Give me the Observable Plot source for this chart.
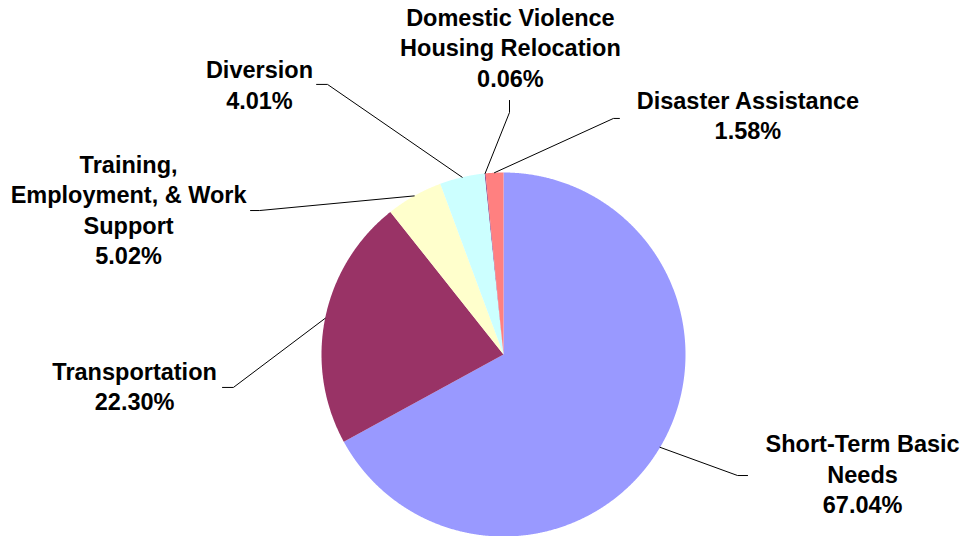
<!DOCTYPE html>
<html>
<head>
<meta charset="utf-8">
<script src="https://cdn.jsdelivr.net/npm/d3@7"></script>
<script src="https://cdn.jsdelivr.net/npm/@observablehq/plot@0.6"></script>
<style>
  html, body { margin: 0; padding: 0; background: #fff; }
  #chart svg { display: block; }
</style>
</head>
<body>
<div id="chart"></div>
<script>
// ---- data ----
const categories = [
  "Short-Term Basic Needs",
  "Transportation",
  "Training, Employment, & Work Support",
  "Diversion",
  "Domestic Violence Housing Relocation",
  "Disaster Assistance"
];
const labelText = [
  "Short-Term Basic\nNeeds",
  "Transportation",
  "Training,\nEmployment, & Work\nSupport",
  "Diversion",
  "Domestic Violence\nHousing Relocation",
  "Disaster Assistance"
];
const shares = [67.04, 22.30, 5.02, 4.01, 0.06, 1.58];
const colors = ["#9999FF", "#993366", "#FFFFCC", "#CCFFFF", "#660066", "#FF8080"];

// ---- label layout (in pie-radius units, centre = 0,0) ----
const elbowX = [1.286, -1.484, -1.341, -0.967, 0.033, 0.604];
const elbowY = [-0.665, -0.181, 0.791, 1.484, 1.330, 1.297];
const endX   = [1.341, -1.544, -1.390, -1.027, 0.033, 0.637];
const endY   = [-0.665, -0.181, 0.791, 1.484, 1.396, 1.297];
const textX  = [1.973, -2.027, -2.060, -1.341, 0.038, 1.343];
const textY  = [-0.651, -0.170, 0.800, 1.489, 1.693, 1.319];

// ---- geometry from values ----
const total = d3.sum(shares);
const slices = [];
const leaders = [];
const labels = [];
let acc = 0;
shares.forEach((v, i) => {
  const a0 = acc / total * 2 * Math.PI;
  acc += v;
  const a1 = acc / total * 2 * Math.PI;
  const name = categories[i];
  const n = Math.max(2, Math.ceil((a1 - a0) / (Math.PI / 720)));
  slices.push({name, k: 0, x: 0, y: 0});
  for (let j = 0; j <= n; j++) {
    const a = a0 + (a1 - a0) * j / n;
    slices.push({name, k: j + 1, x: Math.sin(a), y: Math.cos(a)});
  }
  slices.push({name, k: n + 2, x: 0, y: 0});
  const am = (a0 + a1) / 2;
  leaders.push({name, x: Math.sin(am), y: Math.cos(am)});
  leaders.push({name, x: elbowX[i], y: elbowY[i]});
  leaders.push({name, x: endX[i], y: endY[i]});
  labels.push({name, x: textX[i], y: textY[i], text: labelText[i] + "\n" + v.toFixed(2) + "%"});
});

const cx = 503, cy = 354, R = 182;

const chart = Plot.plot({
  width: 964,
  height: 536,
  margin: 0,
  style: {background: "#fff", overflow: "visible"},
  x: {domain: [-1, 1], range: [cx - R, cx + R], axis: null},
  y: {domain: [-1, 1], range: [cy + R, cy - R], axis: null},
  color: {domain: categories, range: colors},
  marks: [
    Plot.line(slices, {x: "x", y: "y", z: "name", fill: "name", stroke: null, curve: "linear"}),
    Plot.line(leaders, {x: "x", y: "y", z: "name", stroke: "#000", strokeWidth: 1, curve: "linear"}),
    Plot.text(labels, {
      x: "x", y: "y", text: "text",
      fill: "#000",
      fontSize: 23.5,
      fontWeight: "bold",
      fontFamily: "'Liberation Sans', Arial, sans-serif",
      lineHeight: 1.3,
      textAnchor: "middle"
    })
  ]
});
document.getElementById("chart").appendChild(chart);
</script>
</body>
</html>
